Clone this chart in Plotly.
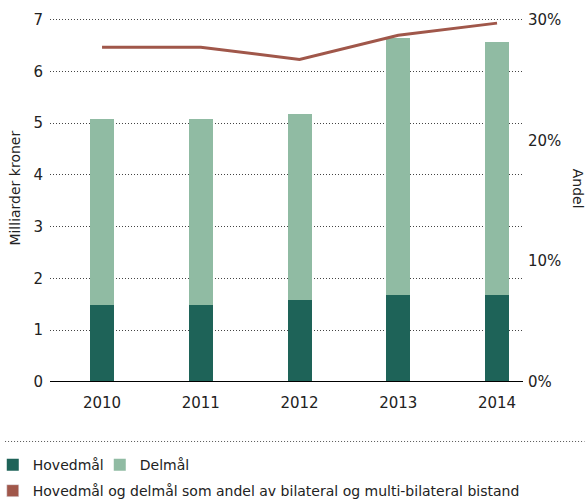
import plotly.graph_objects as go

years = ["2010", "2011", "2012", "2013", "2014"]
hovedmal = [1.48, 1.48, 1.58, 1.68, 1.68]
delmal_total = [5.07, 5.07, 5.17, 6.65, 6.56]
delmal = [round(t - h, 2) for t, h in zip(delmal_total, hovedmal)]
andel = [27.7, 27.7, 26.7, 28.7, 29.7]

left_ticks = [0, 1, 2, 3, 4, 5, 6, 7]
right_ticks = [0, 10, 20, 30]
right_labels = ["0%", "10%", "20%", "30%"]

FONT = "DejaVu Sans"
TXT = "#222222"
DARK = "#1e6358"
LIGHT = "#90bba3"
RED = "#a0574a"

fig = go.Figure()
fig.add_trace(go.Bar(x=years, y=hovedmal, name="Hovedmål", marker_color=DARK,
                     marker_line_width=0, legend="legend"))
fig.add_trace(go.Bar(x=years, y=delmal, name="Delmål", marker_color=LIGHT,
                     marker_line_width=0, legend="legend"))
fig.add_trace(go.Scatter(x=years, y=andel, yaxis="y2", mode="lines",
                         line=dict(color=RED, width=3), showlegend=False))
# legend entry for the line, shown as a square
fig.add_trace(go.Bar(x=[None], y=[None], name="Hovedmål og delmål som andel av bilateral og multi-bilateral bistand",
                     marker_color=RED, legend="legend2"))

fig.update_layout(
    width=588, height=500,
    margin=dict(l=50, r=65, t=17, b=118, autoexpand=False),
    paper_bgcolor="white", plot_bgcolor="white",
    barmode="stack", bargap=0.757,
    font=dict(family=FONT, size=15, color=TXT),
    xaxis=dict(type="category", range=[-0.527, 4.263], showgrid=False,
               showline=False, ticks="", tickfont=dict(size=15), automargin=False,
               ticklabelstandoff=10),
    yaxis=dict(range=[0, 7.048], tickvals=left_ticks, showgrid=True,
               gridcolor="#444444", griddash="1px,2px", gridwidth=1,
               zeroline=False, showline=False, ticks="", ticklabelstandoff=6,
               tickfont=dict(size=15), automargin=False),
    yaxis2=dict(range=[0, 30.207], tickvals=right_ticks, ticktext=right_labels,
                overlaying="y", side="right", showgrid=False, zeroline=False,
                showline=False, ticks="", ticklabelstandoff=4,
                tickfont=dict(size=15), automargin=False),
    legend=dict(orientation="h", x=-0.121, xanchor="left", y=-0.184, yanchor="top",
                font=dict(size=14), traceorder="normal", itemclick=False,
                entrywidth=62),
    legend2=dict(orientation="h", x=-0.121, xanchor="left", y=-0.255, yanchor="top",
                 font=dict(size=14), itemclick=False),
    showlegend=True,
)

# base line at zero
fig.add_shape(type="line", xref="paper", yref="y", x0=0, x1=1, y0=0, y1=0,
              line=dict(color="black", width=2))
# dotted separator above legend
fig.add_shape(type="line", xref="paper", yref="paper", x0=-0.095, x1=1.13,
              y0=-0.163, y1=-0.163, line=dict(color="#555555", width=1, dash="1px,2px"))

fig.add_annotation(text="Milliarder kroner", xref="paper", yref="paper",
                   x=-0.076, y=0.53, textangle=-90, showarrow=False,
                   font=dict(size=14, color=TXT), xanchor="center", yanchor="middle")
fig.add_annotation(text="Andel", xref="paper", yref="paper",
                   x=1.118, y=0.53, textangle=90, showarrow=False,
                   font=dict(size=14, color=TXT), xanchor="center", yanchor="middle")

fig.write_html("out.html", config={"displayModeBar": False},
               post_script="document.body.style.margin='0';")
